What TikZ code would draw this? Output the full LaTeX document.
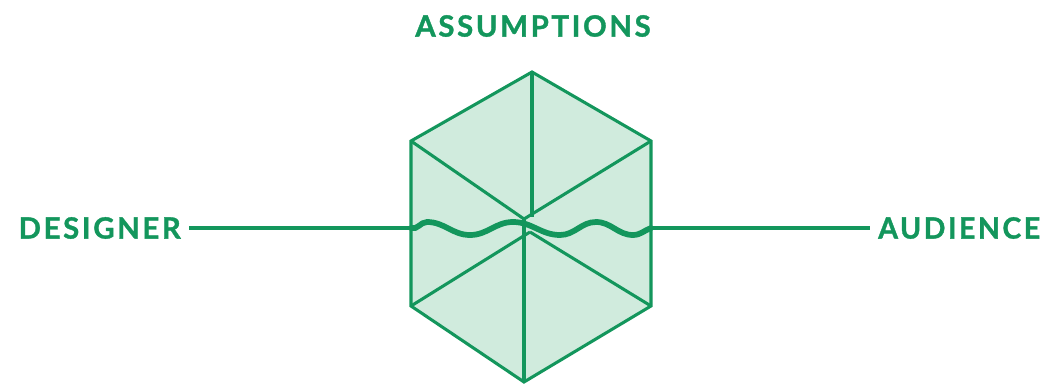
\documentclass[tikz,border=0pt]{standalone}
\usepackage{fontspec}
\newfontfamily\tagfont[LetterSpace=9, BoldFeatures={FakeBold=1.2}]{Lato}
\usetikzlibrary{positioning}
\definecolor{ijo}{RGB}{19,150,92}
\definecolor{ijomuda}{RGB}{208,235,221}

\begin{document}
\begin{tikzpicture}[
    x=0.75pt, y=-0.75pt,
    teks/.style={text=ijo, inner sep=0pt,
                 font=\tagfont\bfseries\fontsize{22}{22}\selectfont},
    sisi/.style={draw=ijo, line width=2.3pt, line join=miter},
    garis/.style={draw=ijo, line width=3pt},
    gelombang/.style={draw=ijo, line width=4.3pt, line cap=round}
  ]
    \useasboundingbox (0,0) rectangle (1045,385);
    \coordinate (atas) at (532,72);
    \coordinate (kiriatas) at (411,141);
    \coordinate (kananatas) at (651,141);
    \coordinate (kiribawah) at (411,306);
    \coordinate (kananbawah) at (651,306);
    \coordinate (bawah) at (524,382);
    \coordinate (pusat1) at (524,219);
    \coordinate (pusat2) at (530,232);
    \coordinate (wkiri) at (411,228);
    \coordinate (wkanan) at (651,228);
    \fill[ijomuda] (atas) -- (kananatas) -- (kananbawah) -- (bawah)
      -- (kiribawah) -- (kiriatas) -- cycle;
    \draw[sisi] (kiriatas) -- (pusat1) (kananatas) -- (pusat1);
    \draw[sisi] (atas) -- (532,217);
    \draw[sisi] (kiribawah) -- (pusat2) (kananbawah) -- (pusat2);
    \draw[sisi] (bawah) -- (524,219);
    \draw[sisi] (atas) -- (kananatas) -- (kananbawah) -- (bawah)
      -- (kiribawah) -- (kiriatas) -- cycle;
    \node[teks] (assumptions) at (533,26) {ASSUMPTIONS};
    \node[teks, anchor=east] (designer) at (181,228) {DESIGNER};
    \node[teks, anchor=west, xscale=0.97] (audience) at (878,228) {AUDIENCE};
    \draw[garis, shorten <=6pt] (designer.east |- wkiri) -- (wkiri);
    \draw[garis, shorten >=6pt] (wkanan) -- (audience.west |- wkanan);
    \draw[gelombang] (wkiri) to[out=-20,in=180] (427,222)
      to[out=0,in=180] (470,235) to[out=0,in=180] (513,222)
      to[out=0,in=180] (560,235) to[out=0,in=180] (596,222)
      to[out=0,in=180] (633,235) to[out=0,in=200] (wkanan);
  \end{tikzpicture}
\end{document}
